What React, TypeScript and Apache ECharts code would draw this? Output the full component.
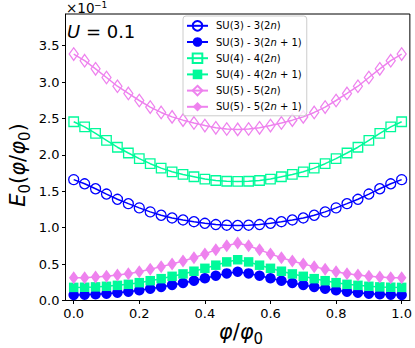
import React, { useEffect, useRef } from "react";
import * as echarts from "echarts";

const phi: number[] = Array.from({ length: 31 }, (_, k) => k / 30);

const su3Even = [1.660, 1.603, 1.535, 1.462, 1.390, 1.330, 1.272, 1.217, 1.171, 1.134, 1.106, 1.082, 1.060, 1.043, 1.034, 1.030,
  1.034, 1.043, 1.060, 1.082, 1.106, 1.134, 1.171, 1.217, 1.272, 1.330, 1.390, 1.462, 1.535, 1.603, 1.660];
const su3Odd = [0.076, 0.079, 0.085, 0.094, 0.107, 0.121, 0.140, 0.162, 0.186, 0.213, 0.241, 0.272, 0.305, 0.340, 0.372, 0.395,
  0.372, 0.340, 0.305, 0.272, 0.241, 0.213, 0.186, 0.162, 0.140, 0.121, 0.107, 0.094, 0.085, 0.079, 0.076];
const su4Even = [2.455, 2.385, 2.295, 2.200, 2.105, 2.026, 1.948, 1.879, 1.818, 1.768, 1.731, 1.700, 1.668, 1.648, 1.638, 1.635,
  1.638, 1.648, 1.668, 1.700, 1.731, 1.768, 1.818, 1.879, 1.948, 2.026, 2.105, 2.200, 2.295, 2.385, 2.455];
const su4Odd = [0.180, 0.182, 0.187, 0.195, 0.208, 0.222, 0.245, 0.272, 0.300, 0.332, 0.365, 0.402, 0.442, 0.485, 0.530, 0.560,
  0.530, 0.485, 0.442, 0.402, 0.365, 0.332, 0.300, 0.272, 0.245, 0.222, 0.208, 0.195, 0.187, 0.182, 0.180];
const su5Even = [3.385, 3.294, 3.182, 3.063, 2.943, 2.844, 2.747, 2.657, 2.583, 2.522, 2.477, 2.439, 2.403, 2.372, 2.356, 2.350,
  2.356, 2.372, 2.403, 2.439, 2.477, 2.522, 2.583, 2.657, 2.747, 2.844, 2.943, 3.063, 3.182, 3.294, 3.385];
const su5Odd = [0.312, 0.314, 0.322, 0.332, 0.350, 0.368, 0.396, 0.428, 0.465, 0.502, 0.543, 0.588, 0.640, 0.697, 0.752, 0.790,
  0.752, 0.697, 0.640, 0.588, 0.543, 0.502, 0.465, 0.428, 0.396, 0.368, 0.350, 0.332, 0.322, 0.314, 0.312];

const xTicks = [0, 0.2, 0.4, 0.6, 0.8, 1.0];
const yTicks = [0, 0.5, 1.0, 1.5, 2.0, 2.5, 3.0, 3.5];

const seriesNames = [
  "SU(3) - 3(2n)",
  "SU(3) - 3(2n+1)",
  "SU(4) - 4(2n)",
  "SU(4) - 4(2n+1)",
  "SU(5) - 5(2n)",
  "SU(5) - 5(2n+1)",
];
const legendRich: Record<string, string> = {
  "SU(3) - 3(2n)": "{a|SU(3) - 3(2}{i|n}{a|)}",
  "SU(3) - 3(2n+1)": "{a|SU(3) - 3(2}{i|n}{a| + 1)}",
  "SU(4) - 4(2n)": "{a|SU(4) - 4(2}{i|n}{a|)}",
  "SU(4) - 4(2n+1)": "{a|SU(4) - 4(2}{i|n}{a| + 1)}",
  "SU(5) - 5(2n)": "{a|SU(5) - 5(2}{i|n}{a|)}",
  "SU(5) - 5(2n+1)": "{a|SU(5) - 5(2}{i|n}{a| + 1)}",
};

const BLUE = "#0000ff";
const GREEN = "#00fa9a";
const PINK = "#ee82ee";
const FONT = "DejaVu Sans";

function mk(name: string, data: number[], color: string, symbol: string, size: any, hollow: boolean) {
  return {
    name,
    type: "line",
    data: phi.map((x, i) => [x, data[i]]),
    symbol,
    symbolSize: size,
    showSymbol: true,
    lineStyle: { color, width: 1.5 },
    itemStyle: hollow
      ? { color: "rgba(0,0,0,0)", borderColor: color, borderWidth: 1.3 }
      : { color, borderColor: color, borderWidth: 0 },
    emphasis: { disabled: true },
  };
}

export default function App() {
  const ref = useRef<HTMLDivElement>(null);
  useEffect(() => {
    const chart = echarts.init(ref.current!, null, { renderer: "svg" });
    chart.setOption({
      animation: false,
      textStyle: { fontFamily: FONT },
      grid: { left: 65.5, right: 3, top: 14, bottom: 47.5, show: true, borderColor: "#000", borderWidth: 1, backgroundColor: "transparent" },
      xAxis: {
        type: "value",
        min: -0.025,
        max: 1.025,
        axisLine: { show: true, onZero: false, lineStyle: { color: "#000", width: 1 } },
        axisTick: { show: true, inside: false, length: 3.5, lineStyle: { color: "#000" }, customValues: xTicks },
        axisLabel: { color: "#000", fontSize: 13, fontFamily: FONT, margin: 6, customValues: xTicks, formatter: (v: number) => v.toFixed(1) },
        splitLine: { show: false },
      },
      yAxis: {
        type: "value",
        min: 0,
        max: 3.935,
        axisLine: { show: true, onZero: false, lineStyle: { color: "#000", width: 1 } },
        axisTick: { show: true, inside: false, length: 3.5, lineStyle: { color: "#000" }, customValues: yTicks },
        axisLabel: { color: "#000", fontSize: 13, fontFamily: FONT, margin: 6, customValues: yTicks, formatter: (v: number) => v.toFixed(1) },
        splitLine: { show: false },
      },
      legend: {
        data: seriesNames,
        orient: "vertical",
        left: 183,
        top: 16,
        padding: [4, 5, 4, 3],
        itemWidth: 21,
        itemHeight: 12,
        itemGap: 5.4,
        backgroundColor: "rgba(255,255,255,0.8)",
        borderColor: "#cccccc",
        borderWidth: 1,
        borderRadius: 3,
        formatter: (name: string) => legendRich[name],
        textStyle: {
          color: "#000",
          fontFamily: FONT,
          fontSize: 10,
          padding: [0, 0, 0, 3],
          rich: {
            a: { fontFamily: FONT, fontSize: 10, color: "#000", lineHeight: 12 },
            i: { fontFamily: FONT, fontStyle: "italic", fontSize: 10, color: "#000", lineHeight: 12 },
          },
        },
      },
      graphic: [
        { type: "text", x: 66, y: 1, style: { text: "×10", fontFamily: FONT, fontSize: 13.5, fill: "#000" } },
        { type: "text", x: 94, y: 0, style: { text: "−1", fontFamily: FONT, fontSize: 9, fill: "#000" } },
        {
          type: "text",
          x: 67,
          y: 22,
          style: {
            text: "{i|U}{a| = 0.1}",
            rich: {
              i: { fontFamily: FONT, fontStyle: "italic", fontSize: 18, fill: "#000" },
              a: { fontFamily: FONT, fontSize: 18, fill: "#000" },
            },
          },
        },
        {
          type: "text",
          x: 20,
          y: 165,
          rotation: Math.PI / 2,
          style: {
            text: "{e|E}{s|0}{n|(}{e|φ}{n|/}{e|φ}{s|0}{n|)}",
            align: "center",
            verticalAlign: "middle",
            rich: {
              e: { fontFamily: FONT, fontStyle: "italic", fontSize: 21, fill: "#000", verticalAlign: "bottom", lineHeight: 24, padding: [0, 0, 4, 0] },
              n: { fontFamily: FONT, fontSize: 21, fill: "#000", verticalAlign: "bottom", lineHeight: 24, padding: [0, 0, 4, 0] },
              s: { fontFamily: FONT, fontSize: 15, fill: "#000", verticalAlign: "bottom", lineHeight: 16 },
            },
          },
        },
        {
          type: "text",
          x: 241,
          y: 334,
          style: {
            text: "{e|φ}{n|/}{e|φ}{s|0}",
            align: "center",
            verticalAlign: "middle",
            rich: {
              e: { fontFamily: FONT, fontStyle: "italic", fontSize: 21, fill: "#000", verticalAlign: "bottom", lineHeight: 24, padding: [0, 0, 4, 0] },
              n: { fontFamily: FONT, fontSize: 21, fill: "#000", verticalAlign: "bottom", lineHeight: 24, padding: [0, 0, 4, 0] },
              s: { fontFamily: FONT, fontSize: 15, fill: "#000", verticalAlign: "bottom", lineHeight: 16 },
            },
          },
        },
      ],
      series: [
        mk(seriesNames[0], su3Even, BLUE, "circle", 10, true),
        mk(seriesNames[1], su3Odd, BLUE, "circle", 10.5, false),
        mk(seriesNames[2], su4Even, GREEN, "rect", 9.5, true),
        mk(seriesNames[3], su4Odd, GREEN, "rect", 9.5, false),
        mk(seriesNames[4], su5Even, PINK, "diamond", [9, 12.5], true),
        mk(seriesNames[5], su5Odd, PINK, "diamond", [9.5, 13], false),
      ],
    });
    return () => chart.dispose();
  }, []);
  return <div ref={ref} style={{ width: 415, height: 348, position: "absolute", left: 0, top: 0 }} />;
}
